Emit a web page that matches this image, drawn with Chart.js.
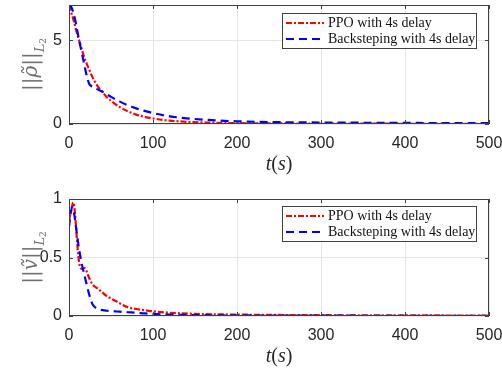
<!DOCTYPE html>
<html>
<head>
<meta charset="utf-8">
<script src="https://cdn.jsdelivr.net/npm/chart.js@4.4.1/dist/chart.umd.min.js"></script>
<style>
  html, body { margin: 0; padding: 0; background: #fff; }
  #wrap { position: relative; width: 502px; height: 373px; }
  .box { position: absolute; left: 0; width: 502px; }
</style>
</head>
<body>
<div id="wrap">
  <div class="box" style="top:0;height:186px"><canvas id="rho"></canvas></div>
  <div class="box" style="top:186px;height:187px"><canvas id="vel"></canvas></div>
</div>
<script>
// position error norm
const tRho = [0, 3, 6, 9, 12, 15, 18, 21, 24, 27, 30, 35, 40, 45, 50, 60, 70, 80, 90, 100, 120, 140, 160, 180, 200, 250, 300, 350, 400, 450, 500];
const ppoRho = [7.1, 6.6, 6.1, 5.5, 5.0, 4.5, 4.0, 3.6, 3.25, 2.9, 2.6, 2.2, 1.9, 1.6, 1.38, 1.02, 0.76, 0.56, 0.43, 0.33, 0.2, 0.13, 0.09, 0.07, 0.05, 0.035, 0.025, 0.02, 0.015, 0.012, 0.01];
const bsRho = [7.1, 6.95, 6.5, 5.8, 5.0, 4.3, 3.6, 2.9, 2.4, 2.25, 2.15, 2.05, 1.92, 1.78, 1.62, 1.35, 1.12, 0.93, 0.78, 0.65, 0.46, 0.34, 0.26, 0.2, 0.16, 0.11, 0.09, 0.075, 0.065, 0.055, 0.05];

// velocity error norm
const tVel = [0, 2, 4, 5, 6, 8, 10, 12, 14, 16, 18, 20, 22, 25, 28, 31, 35, 40, 45, 50, 55, 60, 70, 80, 90, 100, 120, 150, 200, 250, 300, 400, 500];
const ppoVel = [0.82, 0.88, 0.95, 0.97, 0.95, 0.8, 0.6, 0.46, 0.41, 0.4, 0.41, 0.4, 0.36, 0.31, 0.27, 0.25, 0.23, 0.2, 0.17, 0.15, 0.13, 0.11, 0.075, 0.06, 0.05, 0.04, 0.028, 0.018, 0.012, 0.009, 0.007, 0.005, 0.004];
const bsVel = [0.76, 0.88, 0.93, 0.92, 0.88, 0.78, 0.67, 0.57, 0.49, 0.42, 0.36, 0.3, 0.24, 0.16, 0.1, 0.075, 0.06, 0.05, 0.045, 0.042, 0.04, 0.037, 0.032, 0.028, 0.022, 0.018, 0.012, 0.008, 0.005, 0.004, 0.003, 0.002, 0.002];

const xTicks = [0, 100, 200, 300, 400, 500];
const rhoTicks = [0, 5];
const velTicks = [0, 0.5, 1];
const seriesNames = ['PPO with 4s delay', 'Backsteping with 4s delay'];

const RED = '#ff0000', BLUE = '#0000ff';
const DASH_PPO = [6, 2, 2, 2], DASH_BS = [8, 5];
const AXIS = '#404040';

const pts = (xs, ys) => xs.map((x, i) => ({ x, y: ys[i] }));

// box, inward ticks, custom legend and LaTeX-ish axis labels
const decor = {
  id: 'decor',
  afterDraw(chart, args, opts) {
    const ctx = chart.ctx, a = chart.chartArea;
    const sx = chart.scales.x, sy = chart.scales.y;
    ctx.save();
    ctx.strokeStyle = AXIS;
    ctx.lineWidth = 1;
    ctx.setLineDash([]);
    ctx.strokeRect(a.left + 0.5, a.top + 0.5, a.right - a.left - 1, a.bottom - a.top - 1);
    ctx.beginPath();
    xTicks.forEach(v => {
      const px = Math.round(sx.getPixelForValue(v)) + 0.5;
      ctx.moveTo(px, a.bottom); ctx.lineTo(px, a.bottom - 4);
      ctx.moveTo(px, a.top); ctx.lineTo(px, a.top + 4);
    });
    opts.yTicks.forEach(v => {
      const py = Math.round(sy.getPixelForValue(v)) + 0.5;
      ctx.moveTo(a.left, py); ctx.lineTo(a.left + 4, py);
      ctx.moveTo(a.right, py); ctx.lineTo(a.right - 4, py);
    });
    ctx.stroke();

    // legend
    const lw = 195, lh = 36;
    const lx = a.right - 12 - lw, ly = a.top + opts.legendTop;
    ctx.fillStyle = '#fff';
    ctx.fillRect(lx, ly, lw, lh);
    ctx.strokeStyle = AXIS;
    ctx.strokeRect(lx + 0.5, ly + 0.5, lw - 1, lh - 1);
    ctx.font = '14px "Liberation Serif", serif';
    ctx.textBaseline = 'middle';
    chart.data.datasets.forEach((ds, i) => {
      const cy = ly + 10 + i * 16;
      ctx.strokeStyle = ds.borderColor;
      ctx.lineWidth = 2;
      ctx.setLineDash(ds.borderDash);
      ctx.beginPath();
      ctx.moveTo(lx + 4, cy); ctx.lineTo(lx + 42, cy);
      ctx.stroke();
      ctx.setLineDash([]);
      ctx.fillStyle = '#111';
      ctx.fillText(ds.label, lx + 46, cy);
    });

    // x label t(s)
    const cx = (a.left + a.right) / 2, ty = a.bottom + 41;
    const parts = [['t', 'italic'], ['(', ''], ['s', 'italic'], [')', '']];
    ctx.fillStyle = '#262626';
    let w = 0;
    parts.forEach(p => { ctx.font = p[1] + ' 20px "Liberation Serif", serif'; w += ctx.measureText(p[0]).width; });
    let x = cx - w / 2;
    parts.forEach(p => {
      ctx.font = p[1] + ' 20px "Liberation Serif", serif';
      ctx.fillText(p[0], x, ty);
      x += ctx.measureText(p[0]).width;
    });

    // rotated y label ||symbol||_{L_2}
    ctx.translate(32, (a.top + a.bottom) / 2);
    ctx.rotate(-Math.PI / 2);
    ctx.fillStyle = '#707070';
    const yp = [['||', '', 20, 0], [opts.symbol, 'italic', 20, 0], ['||', '', 20, 0], ['L', 'italic', 13, 9], ['2', '', 9, 12]];
    w = 0;
    yp.forEach(p => { ctx.font = p[1] + ' ' + p[2] + 'px "DejaVu Serif", serif'; w += ctx.measureText(p[0]).width; });
    x = -w / 2;
    yp.forEach(p => {
      ctx.font = p[1] + ' ' + p[2] + 'px "DejaVu Serif", serif';
      ctx.fillText(p[0], x, p[3]);
      x += ctx.measureText(p[0]).width;
    });
    ctx.restore();
  }
};

function makeChart(id, tv, ppo, bs, yMax, yTicks, symbol, padTop, legendTop, xHeight) {
  return new Chart(document.getElementById(id), {
    type: 'line',
    data: {
      datasets: [
        { label: seriesNames[0], data: pts(tv, ppo), borderColor: RED, borderDash: DASH_PPO, borderWidth: 2.2, pointRadius: 0, cubicInterpolationMode: 'monotone', order: 1 },
        { label: seriesNames[1], data: pts(tv, bs), borderColor: BLUE, borderDash: DASH_BS, borderWidth: 2.2, pointRadius: 0, cubicInterpolationMode: 'monotone', order: 0 },
      ],
    },
    options: {
      responsive: true,
      maintainAspectRatio: false,
      animation: false,
      events: [],
      layout: { padding: { top: padTop, right: 0, left: 0, bottom: 0 } },
      plugins: {
        legend: { display: false },
        tooltip: { enabled: false },
        decor: { yTicks, symbol, legendTop },
      },
      scales: {
        x: {
          type: 'linear', min: 0, max: 500,
          afterBuildTicks: s => { s.ticks = xTicks.map(v => ({ value: v })); },
          afterFit: s => { s.height = xHeight; s.paddingLeft = 0; s.paddingRight = 13; },
          grid: { color: '#e6e6e6', drawTicks: false },
          border: { display: false },
          ticks: { padding: 10, color: '#262626', font: { family: '"Liberation Sans", Arial, sans-serif', size: 16 } },
        },
        y: {
          type: 'linear', min: 0, max: yMax,
          afterBuildTicks: s => { s.ticks = yTicks.map(v => ({ value: v })); },
          afterFit: s => { s.width = 69; s.paddingTop = 0; s.paddingBottom = 0; },
          grid: { color: '#e6e6e6', drawTicks: false },
          border: { display: false },
          ticks: { padding: 7, color: '#262626', callback: v => String(v), font: { family: '"Liberation Sans", Arial, sans-serif', size: 16 } },
        },
      },
    },
    plugins: [decor],
  });
}

makeChart('rho', tRho, ppoRho, bsRho, 7.1, rhoTicks, 'ρ\u0303', 5, 8, 62);
makeChart('vel', tVel, ppoVel, bsVel, 1, velTicks, '\u1E7D', 13, 7, 57);
</script>
</body>
</html>
